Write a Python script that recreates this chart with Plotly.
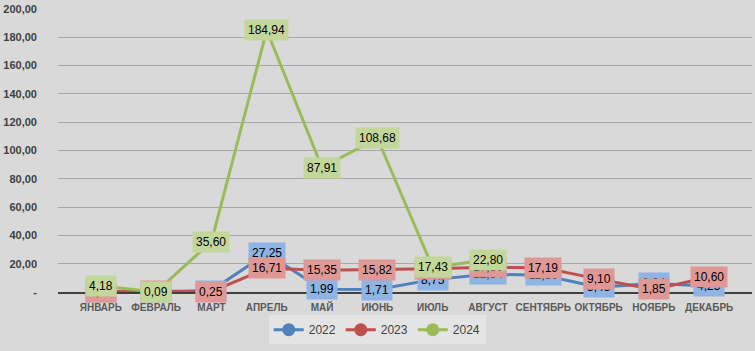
import plotly.graph_objects as go

months = ["ЯНВАРЬ", "ФЕВРАЛЬ", "МАРТ", "АПРЕЛЬ", "МАЙ", "ИЮНЬ", "ИЮЛЬ",
          "АВГУСТ", "СЕНТЯБРЬ", "ОКТЯБРЬ", "НОЯБРЬ", "ДЕКАБРЬ"]
v2022 = [0.10, 0.10, 1.00, 27.25, 1.99, 1.71, 8.75, 12.54, 11.89, 3.45, 6.04, 4.25]
v2023 = [0.20, 0.50, 0.25, 16.71, 15.35, 15.82, 16.40, 17.50, 17.19, 9.10, 1.85, 10.60]
v2024 = [4.18, 0.09, 35.60, 184.94, 87.91, 108.68, 17.43, 22.80, None, None, None, None]

series = [
    ("2022", v2022, "#4f81bd", "#8db4e2"),
    ("2023", v2023, "#c0504d", "#e09896"),
    ("2024", v2024, "#9bbb59", "#c4d79b"),
]

ytick_vals = [0, 20, 40, 60, 80, 100, 120, 140, 160, 180, 200]
ytick_text = ["-"] + [f"{v:.2f}".replace(".", ",") for v in ytick_vals[1:]]

fig = go.Figure()
annotations = []
for name, vals, col, lcol in series:
    fig.add_trace(go.Scatter(
        x=months, y=vals, name=name, mode="lines+markers",
        line=dict(color=col, width=3),
        marker=dict(color=col, size=13),
        cliponaxis=False,
    ))
    for m, v in zip(months, vals):
        if v is None:
            continue
        annotations.append(dict(
            x=m, y=v, xref="x", yref="y", showarrow=False,
            text=f"{v:.2f}".replace(".", ","),
            bgcolor=lcol, borderpad=3,
            font=dict(family="Liberation Sans", size=12, color="#000000"),
        ))

fig.update_layout(
    width=755, height=351,
    margin=dict(l=58, r=3, t=7, b=59),
    paper_bgcolor="#d9d9d9", plot_bgcolor="#d9d9d9",
    annotations=annotations,
    showlegend=True,
    legend=dict(orientation="h", x=0.46, xanchor="center", y=-0.133, yanchor="middle",
                bgcolor="#e4e4e4", font=dict(family="Liberation Sans", size=12, color="#404040"),
                itemwidth=30),
    xaxis=dict(type="category", showgrid=False, showline=True, linecolor="#404040", linewidth=2,
               tickfont=dict(family="Liberation Sans", size=10, color="#595959", weight="bold"),
               tickangle=0, ticks="", zeroline=False, ticklabelstandoff=5),
    yaxis=dict(range=[0, 200], tickvals=ytick_vals, ticktext=ytick_text,
               showgrid=True, gridcolor="#a6a6a6", gridwidth=1, zeroline=False,
               tickfont=dict(family="Liberation Sans", size=11, color="#404040", weight="bold"),
               ticks="", ticklabelstandoff=20),
)

fig.write_html("out.html")
